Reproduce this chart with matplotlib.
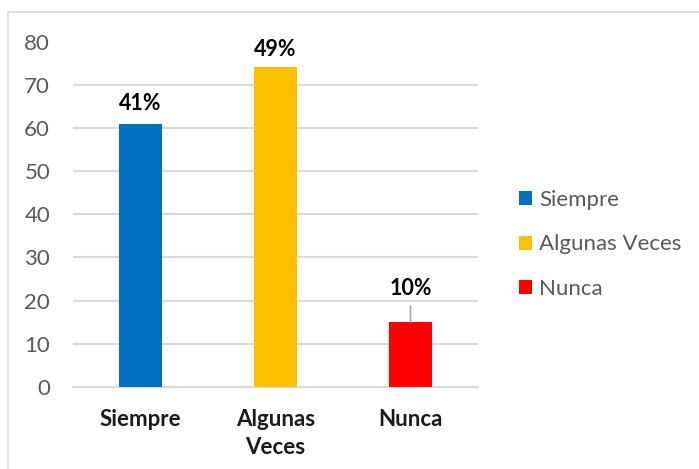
import matplotlib.pyplot as plt
from matplotlib.patches import Rectangle

categories = ['Siempre', 'Algunas Veces', 'Nunca']
tick_labels = ['Siempre', 'Algunas\nVeces', 'Nunca']
values = [61, 74, 15]
pct_labels = ['41%', '49%', '10%']
colors = ['#0070C0', '#FFC000', '#FF0000']

plt.rcParams['font.family'] = ['Lato', 'DejaVu Sans']

fig = plt.figure(figsize=(6.99, 4.69), dpi=100)
ax = fig.add_axes([73 / 699, 1 - 387 / 469, 405 / 699, 345.5 / 469])

x = range(len(categories))
bars = ax.bar(x, values, width=0.32, color=colors, label=categories, zorder=3)

ax.set_xlim(-0.5, 2.5)
ax.set_ylim(0, 80)
ax.set_yticks(range(0, 81, 10))
ax.yaxis.grid(True, color='#D9D9D9', linewidth=1.5, zorder=0)
for side in ['top', 'right', 'left']:
    ax.spines[side].set_visible(False)
ax.spines['bottom'].set_color('#D9D9D9')
ax.spines['bottom'].set_linewidth(1.5)
ax.tick_params(axis='both', length=0)
ax.tick_params(axis='y', labelsize=16, labelcolor='#595959', pad=16.5)
ax.set_xticks(list(x))
ax.set_xticklabels(tick_labels, fontsize=16, fontweight='bold', color='#1a1a1a',
                   linespacing=1.42)
ax.tick_params(axis='x', pad=16)

# data labels
offsets = [20, 18, 34]
for i, (v, lab) in enumerate(zip(values, pct_labels)):
    ax.annotate(lab, (i, v), xytext=(0, offsets[i]), textcoords='offset pixels',
                ha='center', va='center', fontsize=15.5, fontweight='bold',
                color='black')
# leader line for Nunca
ax.annotate('', (2, values[2]), xytext=(0, 16), textcoords='offset pixels',
            arrowprops=dict(arrowstyle='-', color='#A6A6A6', lw=1.2,
                            shrinkA=0, shrinkB=0))

leg = fig.legend(handles=bars, labels=categories, loc='upper left',
                 bbox_to_anchor=(499 / 699, 1 - 170 / 469), frameon=False,
                 fontsize=16, labelcolor='#595959', handlelength=0.6,
                 handleheight=0.6, handletextpad=0.3, labelspacing=1.1)

fig.patches.append(Rectangle((8 / 699, -0.1), 1.1, 1.1 - 12 / 469,
                             transform=fig.transFigure, fill=False,
                             edgecolor='#D9D9D9', linewidth=1.2))

fig.savefig('out.png', dpi=100)
